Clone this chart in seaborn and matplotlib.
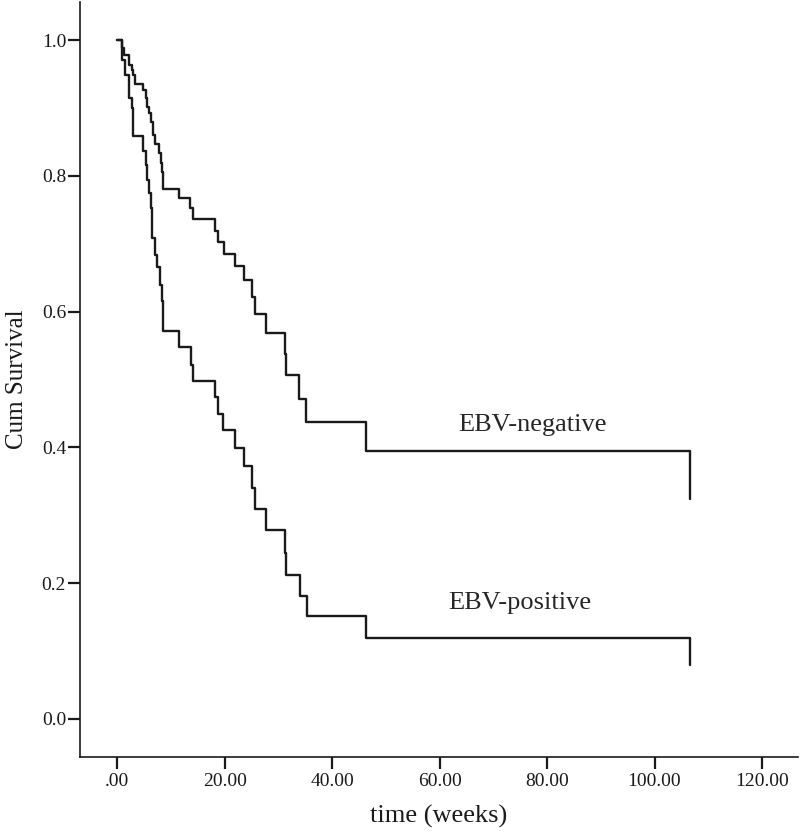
import numpy as np
import pandas as pd
import matplotlib
matplotlib.use("Agg")
import matplotlib.pyplot as plt
import seaborn as sns


# Kaplan-Meier step data (time in weeks, cum survival)
neg_time = [0.0, 0.9, 1.2, 2.3, 2.7, 3.0, 3.35, 4.9, 5.3, 5.6, 5.95, 6.3, 6.6,
            7.1, 7.8, 8.1, 8.4, 8.6, 11.5, 13.6, 14.2, 18.2, 18.7, 19.9, 22.0,
            23.6, 25.1, 25.7, 27.7, 31.2, 31.4, 33.9, 35.2, 46.3, 106.6, 106.6]
neg_surv = [1.0, 0.988, 0.978, 0.963, 0.956, 0.948, 0.935, 0.926, 0.914, 0.902,
            0.892, 0.880, 0.860, 0.847, 0.833, 0.819, 0.806, 0.781, 0.767, 0.752,
            0.736, 0.719, 0.703, 0.685, 0.667, 0.646, 0.622, 0.596, 0.569, 0.538,
            0.506, 0.472, 0.437, 0.394, 0.394, 0.324]

pos_time = [0.0, 1.0, 1.4, 2.3, 2.7, 3.0, 4.9, 5.3, 5.6, 5.95, 6.3, 6.45, 7.1,
            7.45, 8.0, 8.3, 8.6, 11.6, 13.7, 14.1, 18.2, 18.7, 19.8, 22.0, 23.7,
            25.1, 25.7, 27.7, 31.3, 31.5, 34.0, 35.3, 46.3, 106.6, 106.6]
pos_surv = [1.0, 0.970, 0.948, 0.914, 0.900, 0.858, 0.836, 0.816, 0.794, 0.774,
            0.752, 0.708, 0.683, 0.666, 0.639, 0.615, 0.571, 0.548, 0.522, 0.498,
            0.474, 0.449, 0.425, 0.399, 0.372, 0.340, 0.310, 0.278, 0.244, 0.212,
            0.181, 0.152, 0.120, 0.120, 0.080]

group_labels = ["EBV-negative", "EBV-positive"]
x_ticks = [0, 20, 40, 60, 80, 100, 120]
x_tick_labels = [".00", "20.00", "40.00", "60.00", "80.00", "100.00", "120.00"]
y_ticks = [0.0, 0.2, 0.4, 0.6, 0.8, 1.0]

df = pd.concat([
    pd.DataFrame({"time": neg_time, "surv": neg_surv, "group": group_labels[0]}),
    pd.DataFrame({"time": pos_time, "surv": pos_surv, "group": group_labels[1]}),
], ignore_index=True)

sns.set_style("ticks")
plt.rcParams["font.family"] = ["Liberation Serif", "DejaVu Serif"]

fig = plt.figure(figsize=(8, 8.4), dpi=100)
ax = fig.add_axes([0.1, 0.0988, 0.8975, 0.8988])

# steps-post keeps the Kaplan-Meier staircase shape
sns.lineplot(data=df, x="time", y="surv", units="group", estimator=None,
             sort=False, drawstyle="steps-post", color="#1a1a1a",
             linewidth=1.7, ax=ax, legend=False)

ax.text(77.2, 0.433, group_labels[0], fontsize=19, ha="center", va="center")
ax.text(75.0, 0.171, group_labels[1], fontsize=19, ha="center", va="center")

ax.set_xlim(-6.9, 126.7)
ax.set_ylim(-0.056, 1.056)
ax.set_xticks(x_ticks)
ax.set_xticklabels(x_tick_labels)
ax.set_yticks(y_ticks)
ax.set_yticklabels([f"{v:.1f}" for v in y_ticks])
ax.tick_params(axis="both", length=8.5, width=1.6, color="#1a1a1a",
               labelsize=14, labelcolor="#1a1a1a")
ax.tick_params(axis="y", pad=1.5)
ax.tick_params(axis="x", pad=3)

ax.set_xlabel("time (weeks)", fontsize=19, labelpad=11, color="#1a1a1a")
ax.set_ylabel("Cum Survival", fontsize=18, labelpad=10, color="#1a1a1a")

sns.despine(ax=ax)
for side in ["left", "bottom"]:
    ax.spines[side].set_linewidth(1.2)
    ax.spines[side].set_color("#1a1a1a")

fig.savefig("out.png", dpi=100)
